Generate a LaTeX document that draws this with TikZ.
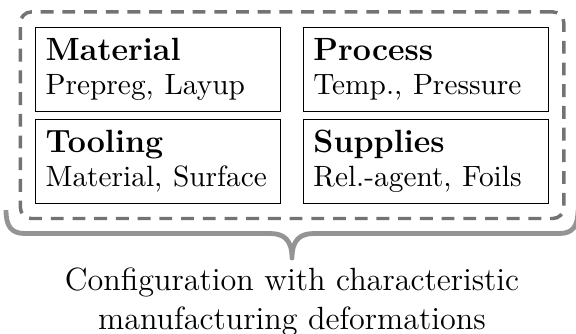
\documentclass[12pt,tikz,border=0pt]{standalone}
\usetikzlibrary{fit}
\definecolor{dashgray}{gray}{0.45}
\definecolor{bracegray}{gray}{0.58}
\begin{document}
\begin{tikzpicture}[x=0.3731pt,y=-0.3731pt,
  box/.style={draw=black, line width=0.45pt, inner xsep=3.7pt, inner ysep=0pt,
    text width=84pt, minimum height=31.3pt, align=left, font=\normalsize},
  frame/.style={draw=dashgray, line width=1.3pt, dash pattern=on 4.8pt off 3.3pt,
    rounded corners=4.1pt, inner sep=5.5pt},
  brace/.style={draw=bracegray, line width=1.8pt, line join=round},
  caption/.style={align=center, inner sep=0pt, font=\normalsize}]
\useasboundingbox (0,0) rectangle (576,333);
\node[box] (mat) at (158.2,69.2) {\textbf{Material}\\[-1.66pt]\small Prepreg, Layup};
\node[box] (pro) at (426,69.2) {\textbf{Process}\\[-1.66pt]\small Temp., Pressure};
\node[box] (too) at (158.2,161.2) {\textbf{Tooling}\\[-1.66pt]\small Material, Surface};
\node[box] (sup) at (426,161.2) {\textbf{Supplies}\\[-1.66pt]\small Rel.-agent, Foils};
\node[frame, fit=(mat)(pro)(too)(sup)] (cfg) {};
\coordinate (bl) at (6,210);
\coordinate (tip) at (292,258);
\coordinate (br) at (578,210);
\draw[brace] (bl) .. controls (6,226) and (11,233.5) .. (25,233.5) -- (270,233.5)
  .. controls (284,233.5) and (292,240) .. (tip)
  .. controls (292,240) and (300,233.5) .. (314,233.5) -- (559,233.5)
  .. controls (573,233.5) and (578,226) .. (br);
\node[caption, anchor=north] (cap) at (292,267) {Configuration with characteristic\\manufacturing deformations};
\end{tikzpicture}
\end{document}
